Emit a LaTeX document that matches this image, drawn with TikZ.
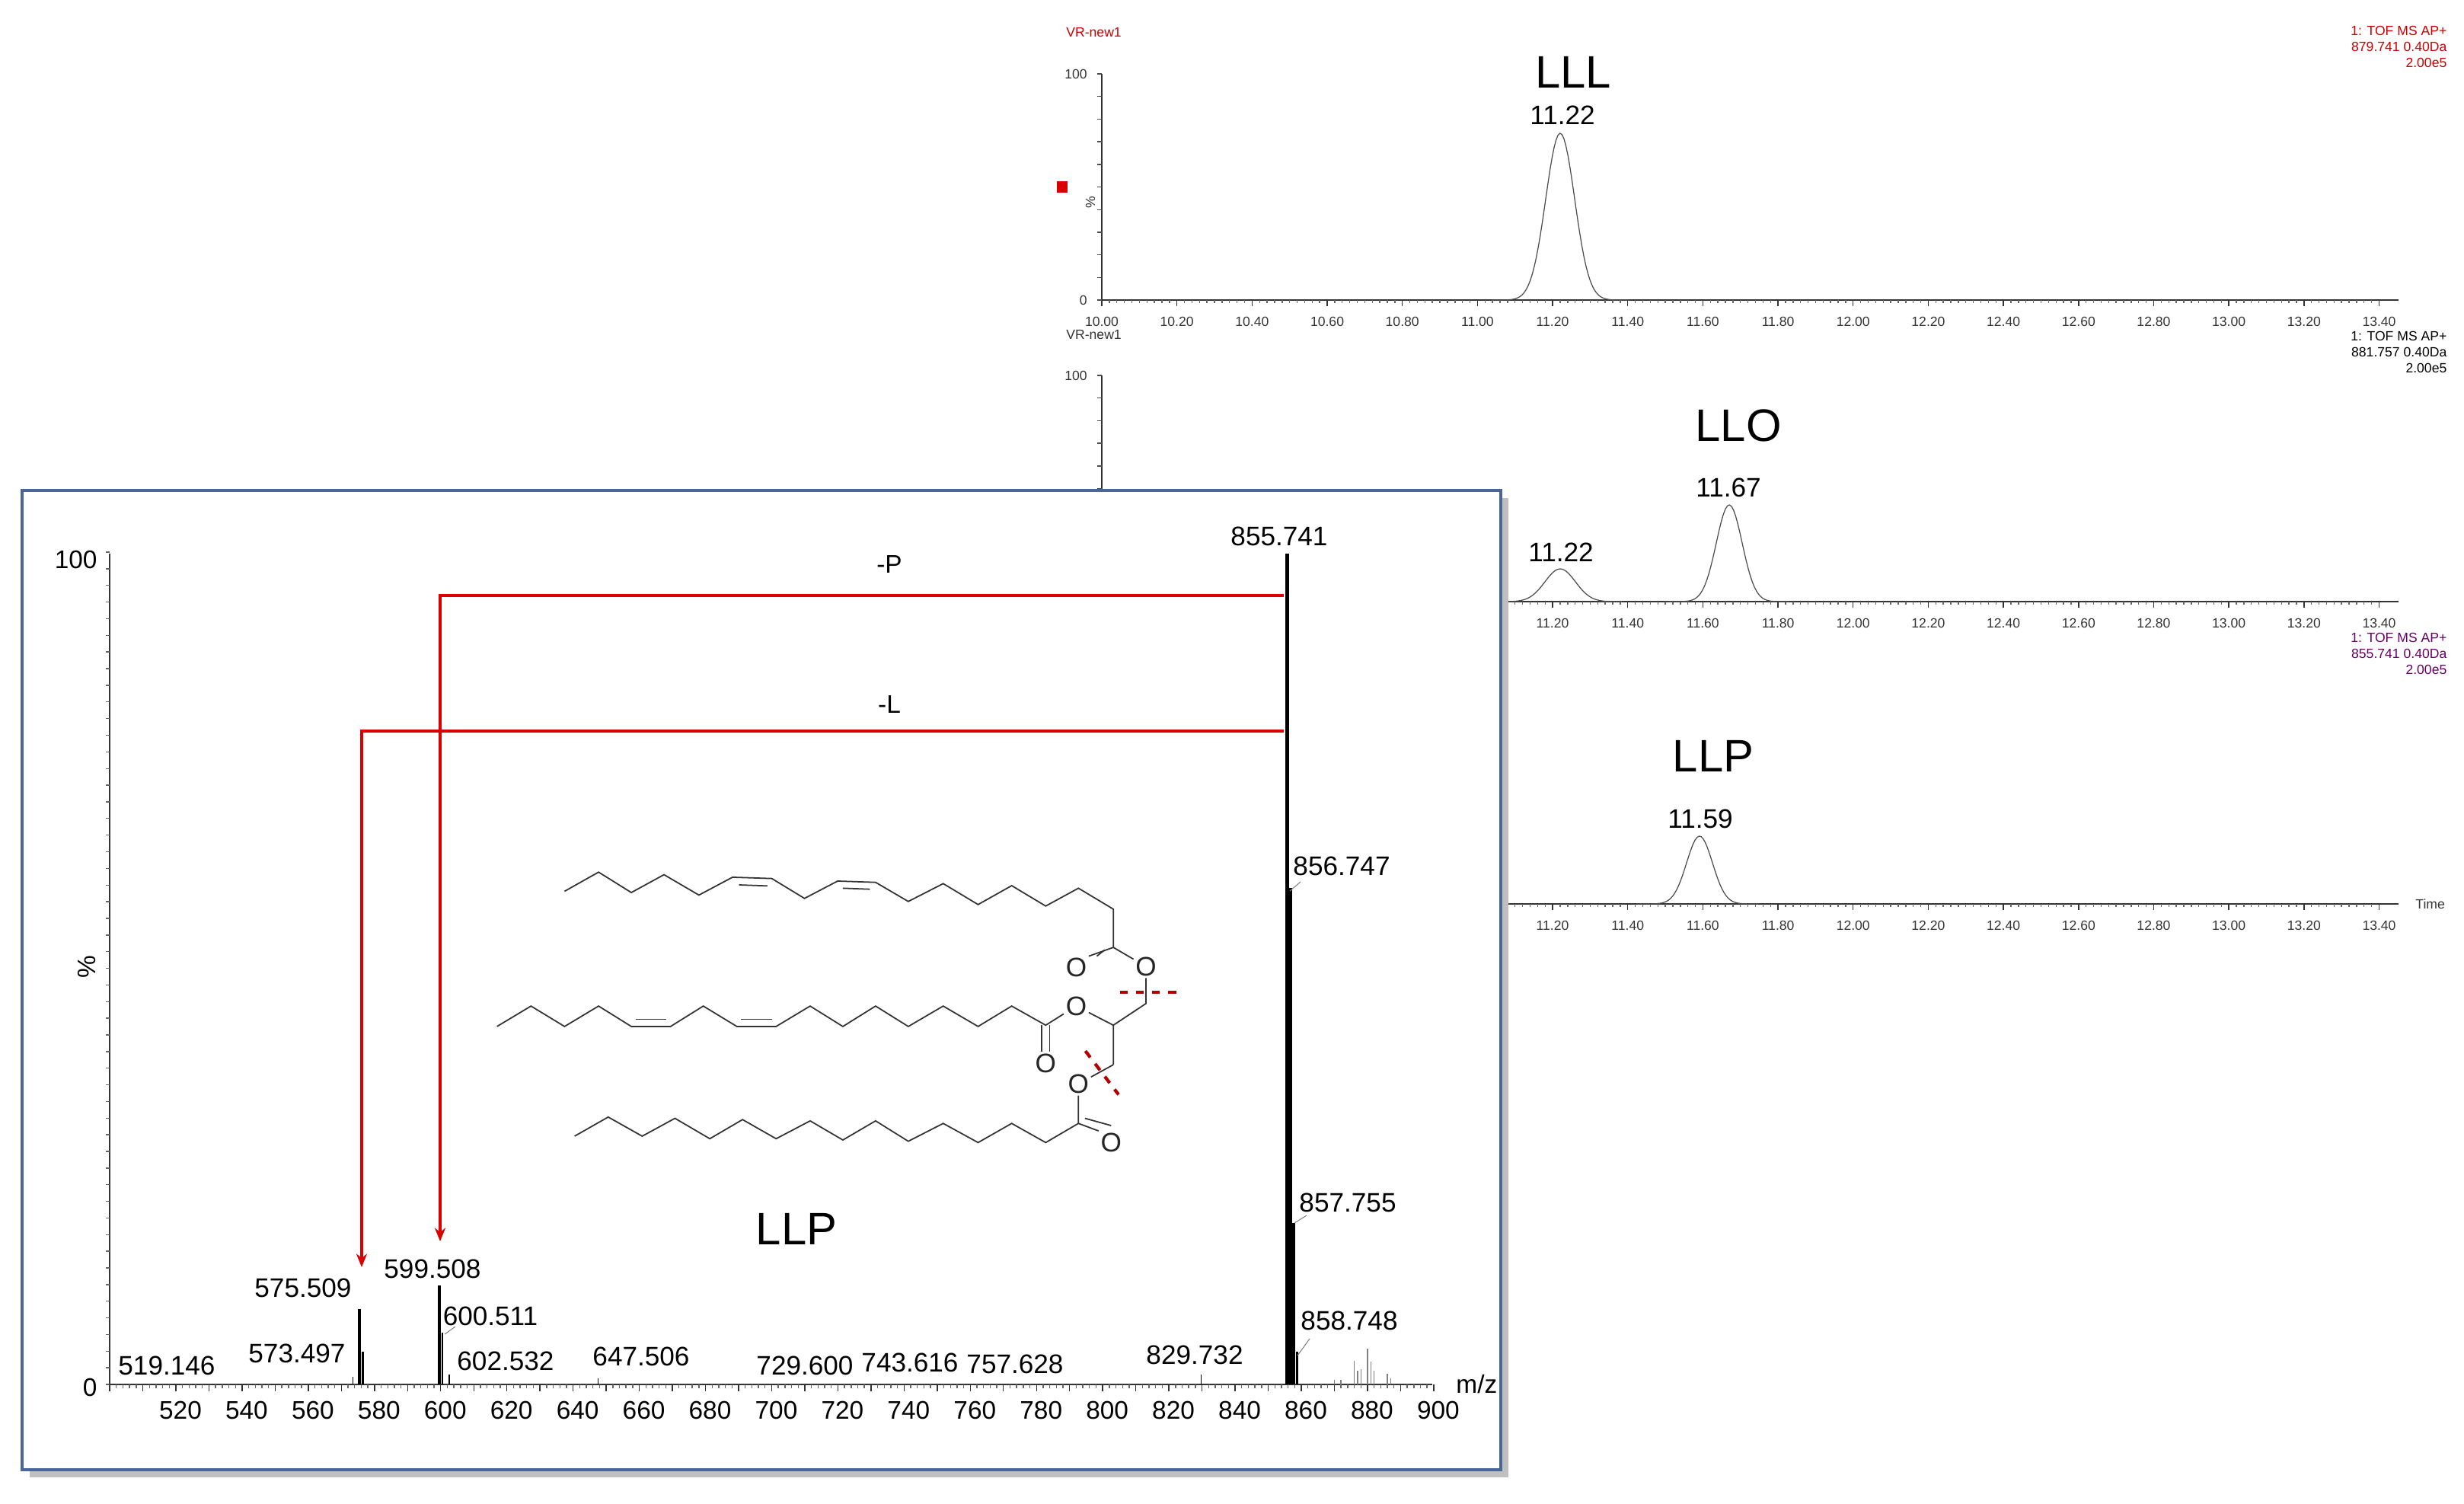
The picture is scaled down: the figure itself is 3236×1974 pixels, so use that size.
\documentclass[tikz,border=0pt]{standalone}
\usepackage{fontspec}
\setmainfont{Liberation Sans}
\usetikzlibrary{arrows.meta}
\definecolor{boxblue}{RGB}{72,102,150}
\begin{document}
\begin{tikzpicture}[x=0.01cm,y=-0.01cm,
  tk/.style={font=\fontsize{5}{6}\selectfont, text=black!80},
  hdr/.style={font=\fontsize{5}{6}\selectfont, align=right, anchor=north east, inner sep=0},
  big/.style={font=\fontsize{17}{20}\selectfont},
  rt/.style={font=\fontsize{10}{12}\selectfont},
  pk/.style={font=\fontsize{10}{12}\selectfont, inner sep=1pt},
  sx/.style={font=\fontsize{9.5}{11}\selectfont},
  trace/.style={black!70, line width=0.35pt},
  bond/.style={black!80, line width=0.5pt},
  atom/.style={font=\fontsize{10}{12}\selectfont, inner sep=0.6pt, text=black!85},
  cut/.style={red!70!black, dashed, line width=1.2pt},
  frag/.style={red!85!black, line width=0.9pt, -{Stealth[length=5pt,width=4pt]}}]
\useasboundingbox (0,0) rectangle (3236,1974);
% ---------- chromatograms ----------
\newcommand{\mychrom}[2]{% #1 base y, #2 top y
  \draw[black!80, line width=0.4pt] (1447,#2) -- (1447,#1) -- (3150,#1);
  \foreach \i in {0,...,170} {
    \pgfmathsetmacro{\xx}{1447+\i*9.8675}
    \pgfmathtruncatemacro{\mm}{mod(\i,10)}
    \ifnum\mm=0 \draw[black!80] (\xx,#1) -- ++(0,8); \else \draw[black!60] (\xx,#1) -- ++(0,4); \fi
  }
  \foreach \lab [count=\j from 0] in {10.00,10.20,10.40,10.60,10.80,11.00,11.20,11.40,11.60,11.80,12.00,12.20,12.40,12.60,12.80,13.00,13.20,13.40} {
    \node[tk, anchor=north] at ({1447+\j*98.675},{#1+10}) {\lab};
  }
  \foreach \k in {0,...,10} { \draw[black!70] (1447,{#1-\k*(#1-#2)/10}) -- ++(-6,0); }
  \node[tk, anchor=east] at (1440,#2) {100};
  \node[tk, anchor=east] at (1440,#1) {0};
  \node[tk, anchor=east, rotate=90] at (1432,{(#1+#2)/2}) {\%};
}
\mychrom{394}{97}
\mychrom{790}{493}
\mychrom{1187}{890}
\node[tk, anchor=west] (time) at (3160,1187) {Time};
\node[tk, text=red!80!black, anchor=west] (vr1) at (1388,43) {VR-new1};
\node[tk, anchor=west] (vr2) at (1388,440) {VR-new1};
\node[tk, anchor=west] (vr3) at (1388,836) {VR-new1};
\fill[red!85!black] (1388,238) rectangle (1402,253);
\node[hdr, text=red!80!black] (h1) at (3214,33) {1: TOF MS AP+\\879.741 0.40Da\\2.00e5};
\node[hdr] (h2) at (3214,434) {1: TOF MS AP+\\881.757 0.40Da\\2.00e5};
\node[hdr, text=violet!80!black] (h3) at (3214,830) {1: TOF MS AP+\\855.741 0.40Da\\2.00e5};
\draw[trace] plot[domain=1960:2140, samples=70] (\x,{394-219*exp(-((\x-2049)/19)^2/2)});
\draw[trace] plot[domain=1970:2130, samples=60] (\x,{790-43*exp(-((\x-2049)/20)^2/2)});
\draw[trace] plot[domain=2190:2350, samples=60] (\x,{790-127*exp(-((\x-2271)/17)^2/2)});
\draw[trace] plot[domain=2150:2310, samples=60] (\x,{1187-89*exp(-((\x-2232)/17)^2/2)});
\node[big] (lll) at (2066,95) {LLL};
\node[rt] (r1) at (2052,151) {11.22};
\node[big] (llo) at (2283,559) {LLO};
\node[rt] (r2) at (2270,640) {11.67};
\node[rt] (r3) at (2050,725) {11.22};
\node[big] (llp2) at (2250,993) {LLP};
\node[rt] (r4) at (2233,1075) {11.59};
% ---------- inset box ----------
\fill[black!25] (39,654) rectangle (1981,1940);
\fill[white] (29,644) rectangle (1971,1930);
\draw[boxblue, line width=1.2pt] (29,644) rectangle (1971,1930);
% ---------- spectrum axes ----------
\draw[black!80, line width=0.5pt] (144,727) -- (144,1818) -- (1881,1818);
\foreach \k in {0,...,50} { \draw[black!60] (144,{1818-\k*21.86}) -- ++(-5,0); }
\foreach \i in {0,...,200} {
  \pgfmathsetmacro{\xx}{231+(\i*2-20)*4.347}
  \pgfmathtruncatemacro{\mm}{mod(\i,5)}
  \ifnum\mm=0 \draw[black!80] (\xx,1818) -- ++(0,9); \else \draw[black!60] (\xx,1818) -- ++(0,5); \fi
}
\foreach \v in {520,540,...,900} { \node[sx, anchor=north] at ({237+(\v-520)*4.347},1828) {\v}; }
\node[sx, anchor=east] (y100) at (140,735) {100};
\node[sx, anchor=east] (y0) at (140,1822) {0};
\node[sx, rotate=90] (pc) at (114,1270) {\%};
\node[sx, anchor=west] (mz) at (1900,1818) {m/z};
% peaks
\foreach \m/\h/\w in {855.741/727/1.5, 856.747/1166/1.3, 857.755/1606/1.1, 858.748/1775/0.8,
  599.508/1688/1.1, 600.511/1750/0.8, 602.532/1805/0.5, 575.509/1719/1.1, 576.5/1775/0.8, 573.497/1808/0.5,
  829.732/1805/0.4, 647.506/1810/0.4}
  { \draw[black, line width=\w pt] ({231+(\m-520)*4.347},1818) -- ({231+(\m-520)*4.347},\h); }
\foreach \m/\h in {876/1787, 877/1800, 878/1798, 880/1771, 881/1788, 882/1800, 886/1804, 887/1810, 870/1812, 872/1812}
  { \draw[black!50, line width=0.4pt] ({231+(\m-520)*4.347},1818) -- ({231+(\m-520)*4.347},\h); }
\node[pk] (p1) at (1680,704) {855.741};
\node[pk] (p2) at (1762,1137) {856.747};
\node[pk] (p3) at (1770,1579) {857.755};
\node[pk] (p4) at (1772,1734) {858.748};
\node[pk] (p5) at (568,1666) {599.508};
\node[pk] (p6) at (644,1728) {600.511};
\node[pk] (p7) at (664,1787) {602.532};
\node[pk] (p8) at (398,1691) {575.509};
\node[pk] (p9) at (390,1777) {573.497};
\node[pk] (p10) at (219,1793) {519.146};
\node[pk] (p11) at (842,1781) {647.506};
\node[pk] (p12) at (1057,1793) {729.600};
\node[pk] (p13) at (1195,1789) {743.616};
\node[pk] (p14) at (1333,1791) {757.628};
\node[pk] (p15) at (1569,1779) {829.732};
\draw[black!50, line width=0.3pt] (1700,1606) -- (1716,1596) (1704,1780) -- (1720,1758) (584,1752) -- (598,1742) (1694,1170) -- (1708,1158);
% fragment arrows
\coordinate (fP0) at (1686,782); \coordinate (fP1) at (578,782); \coordinate (fP2) at (578,1630);
\coordinate (fL0) at (1686,960); \coordinate (fL1) at (475,960); \coordinate (fL2) at (475,1664);
\draw[frag] (fP0) -- (fP1) -- (fP2);
\draw[frag] (fL0) -- (fL1) -- (fL2);
\node[sx] (lP) at (1168,741) {-P};
\node[sx] (lL) at (1168,925) {-L};
\node[big] (llp) at (1046,1614) {LLP};
% ---------- molecule ----------
\begin{scope}[shift={(620,1100)}, x=0.01cm/1.745, y=-0.01cm/2.985]
  \draw[bond] (212,210) -- (290,135) -- (365,215) -- (440,145) -- (520,225) -- (597,155) -- (687,160)
     -- (762,238) -- (838,170) -- (925,175) -- (1000,250) -- (1080,180) -- (1160,262) -- (1237,188)
     -- (1315,268) -- (1390,198) -- (1470,280) -- (1470,430);
  \draw[bond] (612,185) -- (677,189) (850,198) -- (912,202);
  \node[atom] (oa) at (1385,510) {O};
  \node[atom] (ob) at (1545,505) {O};
  \draw[bond] (1470,430) -- (ob);
  \draw[bond] (1470,430) -- (oa.north east);
  \draw[bond] (1450,440) -- ([xshift=3pt]oa.north east);
  \coordinate (g1) at (1545,650); \coordinate (g2) at (1470,735); \coordinate (g3) at (1470,890);
  \draw[bond] (ob) -- (g1) -- (g2) -- (g3);
  \node[atom] (oc) at (1385,660) {O};
  \node[atom] (od) at (1390,965) {O};
  \draw[bond] (g2) -- (oc); \draw[bond] (g3) -- (od);
  \draw[bond] (oc) -- (1315,735) -- (1237,660) -- (1160,740) -- (1080,660) -- (1000,740) -- (925,660)
     -- (850,740) -- (775,660) -- (697,740) -- (607,740) -- (530,660) -- (455,740) -- (365,740)
     -- (290,660) -- (212,740) -- (135,660) -- (57,740);
  \draw[bond] (375,712) -- (445,712) (617,712) -- (687,712);
  \node[atom] (oe) at (1315,885) {O};
  \draw[bond] ([xshift=-1.5pt]1315,735) -- ([xshift=-1.5pt]oe.north);
  \draw[bond] ([xshift=1.5pt]1315,735) -- ([xshift=1.5pt]oe.north);
  \draw[bond] (od) -- (1390,1120) -- (1315,1195) -- (1237,1120) -- (1160,1195) -- (1080,1120) -- (1000,1190)
     -- (925,1110) -- (850,1185) -- (775,1110) -- (697,1180) -- (620,1105) -- (545,1180) -- (465,1100)
     -- (390,1170) -- (312,1095) -- (235,1170);
  \node[atom] (of) at (1465,1195) {O};
  \draw[bond] (1390,1120) -- (of.north west);
  \draw[bond] (1405,1100) -- ([yshift=2pt]of.north);
  \draw[cut] (1485,606) -- (1620,606);
  \draw[cut] (1406,836) -- (1482,1007);
\end{scope}
\end{tikzpicture}
\end{document}
